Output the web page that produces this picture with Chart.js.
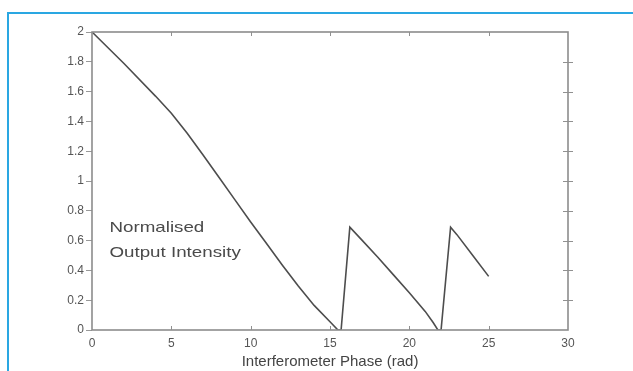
<!DOCTYPE html>
<html>
<head>
<meta charset="utf-8">
<script src="https://cdn.jsdelivr.net/npm/chart.js@4/dist/chart.umd.min.js"></script>
<style>
  html, body { margin: 0; padding: 0; background: #fff; overflow: hidden; }
  #wrap { position: relative; width: 633px; height: 371px; }
  #frame { position: absolute; left: 7px; top: 12px; width: 640px; height: 400px;
           border-top: 2px solid #2aa7e2; border-left: 2px solid #2aa7e2; pointer-events: none; }
  canvas { position: absolute; left: 0; top: 0; }
</style>
</head>
<body>
<div id="wrap">
  <canvas id="c" width="633" height="371"></canvas>
  <div id="frame"></div>
</div>
<script>
// Interferometer phase (rad)
const phase = [0, 2, 4, 5, 6, 7, 8, 9, 10, 11, 12, 13, 14, 15, 15.5, 15.7,
               16.25, 17, 18, 19, 20, 21, 21.5, 21.8, 22.0,
               22.6, 23, 24, 25];
// Normalised output intensity
const intensity = [2.0, 1.79, 1.57, 1.455, 1.32, 1.175, 1.025, 0.875, 0.725, 0.58, 0.435, 0.295, 0.165, 0.055, 0.0, 0.0,
                   0.69, 0.605, 0.49, 0.37, 0.25, 0.125, 0.05, 0.0, 0.0,
                   0.69, 0.64, 0.50, 0.36];
const xTitle = "Interferometer Phase (rad)";
const noteLines = ["Normalised", "Output Intensity"];
const notePos = { x: 1.1, y: [0.685, 0.52] };

const points = phase.map((p, i) => ({ x: p, y: intensity[i] }));

const boxPlugin = {
  id: 'box',
  afterDraw(chart) {
    const { ctx, chartArea: a, scales } = chart;
    const xs = scales.x, ys = scales.y;
    ctx.save();
    ctx.strokeStyle = '#8c8c8c';
    ctx.lineWidth = 1.6;
    ctx.strokeRect(a.left, a.top, a.right - a.left, a.bottom - a.top);
    ctx.lineWidth = 1;
    ctx.strokeStyle = '#909090';
    ctx.beginPath();
    xs.ticks.forEach(t => {
      const px = Math.round(xs.getPixelForValue(t.value)) + 0.5;
      if (t.value > xs.min && t.value < xs.max) {
        ctx.moveTo(px, a.bottom); ctx.lineTo(px, a.bottom - 4);
        ctx.moveTo(px, a.top); ctx.lineTo(px, a.top + 4);
      }
    });
    ys.ticks.forEach(t => {
      const py = Math.round(ys.getPixelForValue(t.value)) + 0.5;
      if (t.value > ys.min && t.value < ys.max) {
        ctx.moveTo(a.right - 5, py); ctx.lineTo(a.right + 5, py);
      }
    });
    ctx.stroke();
    // annotation text
    ctx.fillStyle = '#4a4a4a';
    ctx.font = '15px "Liberation Sans", Arial, sans-serif';
    ctx.textBaseline = 'middle';
    ctx.textAlign = 'left';
    noteLines.forEach((s, i) => {
      const px = xs.getPixelForValue(notePos.x);
      const py = ys.getPixelForValue(notePos.y[i]);
      ctx.save();
      ctx.translate(px, py);
      ctx.scale(1.25, 1);
      ctx.fillText(s, 0, 0);
      ctx.restore();
    });
    ctx.restore();
  }
};

const fmt = v => String(Math.round(v * 10) / 10);

new Chart(document.getElementById('c'), {
  type: 'line',
  data: {
    datasets: [{
      data: points,
      borderColor: '#4d4d4d',
      borderWidth: 1.6,
      pointRadius: 0,
      tension: 0,
      fill: false
    }]
  },
  options: {
    responsive: false,
    animation: false,
    devicePixelRatio: 1,
    layout: { padding: { left: 0, right: 65, top: 32, bottom: 0 } },
    plugins: { legend: { display: false }, tooltip: { enabled: false } },
    scales: {
      x: {
        type: 'linear', min: 0, max: 30,
        afterFit(s) { s.height = 41; },
        ticks: { stepSize: 5, color: '#555', padding: 6, maxRotation: 0, callback: fmt,
                 font: { family: '"Liberation Sans", Arial, sans-serif', size: 12 } },
        grid: { display: true, drawOnChartArea: false, drawTicks: false },
        border: { display: false },
        title: { display: true, text: xTitle, color: '#444', padding: { top: 0, bottom: 0 },
                 font: { family: '"Liberation Sans", Arial, sans-serif', size: 15 } }
      },
      y: {
        type: 'linear', min: 0, max: 2,
        afterFit(s) { s.width = 92; },
        ticks: { stepSize: 0.2, color: '#555', padding: 2, callback: fmt,
                 font: { family: '"Liberation Sans", Arial, sans-serif', size: 12 } },
        grid: { display: true, drawOnChartArea: false, drawTicks: true, tickLength: 6, color: '#999' },
        border: { display: false }
      }
    }
  },
  plugins: [boxPlugin]
});
</script>
</body>
</html>
